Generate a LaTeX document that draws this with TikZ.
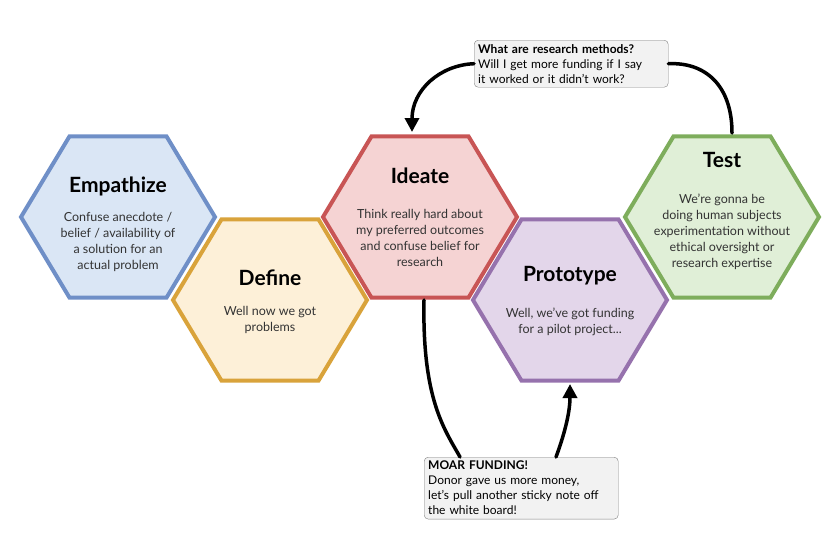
\documentclass[tikz,border=0pt]{standalone}
\usepackage{fontspec}
\setmainfont{Lato}
\usetikzlibrary{shapes.geometric,arrows.meta}
\definecolor{empB}{HTML}{6F8FC7}\definecolor{empF}{HTML}{DAE6F5}
\definecolor{defB}{HTML}{D9A33B}\definecolor{defF}{HTML}{FDF0D8}
\definecolor{ideB}{HTML}{C85555}\definecolor{ideF}{HTML}{F5D3D3}
\definecolor{proB}{HTML}{9672AD}\definecolor{proF}{HTML}{E3D6EA}
\definecolor{tesB}{HTML}{7EAD5C}\definecolor{tesF}{HTML}{E0EFD7}
\begin{document}
\begin{tikzpicture}
  [x=1pt,y=-1pt,
   hexa/.style={regular polygon,regular polygon sides=6,minimum size=194pt,
     inner sep=0pt,line width=4pt,yscale=0.96},
   ttl/.style={font=\bfseries\fontsize{21}{23}\selectfont},
   body/.style={align=center,font=\fontsize{12.5}{16}\selectfont,text=black!80},
   note/.style={draw=black!50,fill=black!5,rounded corners=4pt,align=left,
     inner sep=4pt,font=\fontsize{12}{15}\selectfont,text width=186pt},
   loop/.style={line width=3.5pt,line cap=round}]
  \useasboundingbox (0,0) rectangle (840,558);
  \node[hexa,draw=empB,fill=empF] (emp) at (118,217) {};
  \node[ttl] (empT) at (118,186) {Empathize};
  \node[body] (empX) at (118,242) {Confuse anecdote /\\belief / availability of\\a solution for an\\actual problem};
  \node[hexa,draw=defB,fill=defF] (def) at (270,300) {};
  \node[ttl] (defT) at (270,278) {Define};
  \node[body] (defX) at (270,320) {Well now we got\\problems};
  \node[hexa,draw=ideB,fill=ideF] (ide) at (420,217) {};
  \node[ttl] (ideT) at (420,176) {Ideate};
  \node[body] (ideX) at (420,238) {Think really hard about\\my preferred outcomes\\and confuse belief for\\research};
  \node[hexa,draw=proB,fill=proF] (pro) at (570,300) {};
  \node[ttl] (proT) at (570,276) {Prototype};
  \node[body] (proX) at (570,322) {Well, we've got funding\\for a pilot project...};
  \node[hexa,draw=tesB,fill=tesF] (tes) at (722,217) {};
  \node[ttl] (tesT) at (722,160) {Test};
  \node[body] (tesX) at (722,232) {We're gonna be\\doing human subjects\\experimentation without\\ethical oversight or\\research expertise};
  % callouts
  \node[note,anchor=north west] (top) at (474,40)
    {\textbf{What are research methods?}\\Will I get more funding if I say\\it worked or it didn't work?};
  \node[note,anchor=north west] (bot) at (424,457)
    {\textbf{MOAR FUNDING!}\\Donor gave us more money,\\let's pull another sticky note off\\the white board!};
  \coordinate (tesTop) at (732,133);
  \coordinate (ideTop) at (412,132);
  \coordinate (ideBot) at (424,300);
  \coordinate (proBot) at (570,384);
  \coordinate (botIn) at (460,457);
  \coordinate (botOut) at (556,457);
  \draw[loop] (tesTop) .. controls (732,85) and (705,62) .. (top.east);
  \draw[loop,-{Triangle[length=14pt,width=14pt]}] (top.west) .. controls (440,65) and (412,90) .. (ideTop);
  \draw[loop] (ideBot) .. controls (422,400) and (445,430) .. (botIn);
  \draw[loop,-{Triangle[length=14pt,width=14pt]}] (botOut) .. controls (566,430) and (570,410) .. (proBot);
\end{tikzpicture}
\end{document}
